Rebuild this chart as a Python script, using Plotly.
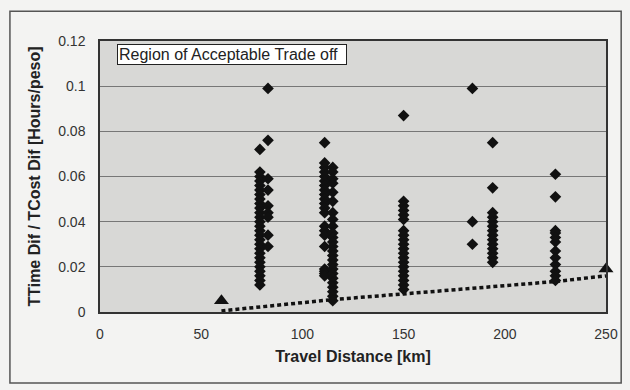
import plotly.graph_objects as go

# ---- data ----
x79 = [79]*27
y79 = [0.072, 0.062, 0.060, 0.058, 0.056, 0.054, 0.052, 0.050, 0.048, 0.046, 0.044,
       0.042, 0.040, 0.038, 0.036, 0.034, 0.032, 0.030, 0.028, 0.026, 0.024, 0.022,
       0.020, 0.018, 0.016, 0.014, 0.012]
x83 = [83]*9
y83 = [0.099, 0.076, 0.059, 0.054, 0.047, 0.044, 0.042, 0.034, 0.029]
x111 = [111]*21
y111 = [0.075, 0.066, 0.064, 0.062, 0.060, 0.058, 0.056, 0.054, 0.052, 0.050, 0.048,
        0.046, 0.044, 0.038, 0.036, 0.034, 0.029, 0.019, 0.018, 0.017, 0.016]
x115 = [115]*25
y115 = [0.064, 0.062, 0.059, 0.057, 0.053, 0.049, 0.044, 0.041, 0.038, 0.035, 0.033,
        0.031, 0.029, 0.027, 0.025, 0.023, 0.021, 0.019, 0.017, 0.015, 0.013, 0.011,
        0.009, 0.007, 0.005]
x150 = [150]*20
y150 = [0.087, 0.049, 0.047, 0.045, 0.043, 0.041, 0.036, 0.034, 0.032, 0.030, 0.028,
        0.026, 0.024, 0.022, 0.020, 0.018, 0.016, 0.014, 0.012, 0.010]
x184 = [184]*3
y184 = [0.099, 0.040, 0.030]
x194 = [194]*14
y194 = [0.075, 0.055, 0.044, 0.042, 0.040, 0.038, 0.036, 0.034, 0.032, 0.030, 0.028,
        0.026, 0.024, 0.022]
x225 = [225]*12
y225 = [0.061, 0.051, 0.036, 0.035, 0.033, 0.031, 0.027, 0.024, 0.021, 0.018, 0.016, 0.014]

tri_x = [60, 250]
tri_y = [0.005, 0.019]

line_x = [60, 115, 150, 185, 225, 250]
line_y = [0.0005, 0.0055, 0.008, 0.0105, 0.0135, 0.016]

x_ticks = [0, 50, 100, 150, 200, 250]
y_ticks = [0, 0.02, 0.04, 0.06, 0.08, 0.1, 0.12]
y_tick_text = ["0", "0.02", "0.04", "0.06", "0.08", "0.1", "0.12"]

pts_x = x79 + x83 + x111 + x115 + x150 + x184 + x194 + x225
pts_y = y79 + y83 + y111 + y115 + y150 + y184 + y194 + y225

FONT = "Liberation Sans, Arial, sans-serif"

fig = go.Figure()
fig.add_trace(go.Scatter(
    x=line_x, y=line_y, mode="lines",
    line=dict(color="#111111", width=3.5, dash="4px,3px"),
    hoverinfo="skip", showlegend=False))
fig.add_trace(go.Scatter(
    x=pts_x, y=pts_y, mode="markers",
    marker=dict(symbol="diamond", size=9, color="#111111", line=dict(width=0)),
    showlegend=False))
fig.add_trace(go.Scatter(
    x=tri_x, y=tri_y, mode="markers", cliponaxis=False,
    marker=dict(symbol="triangle-up", size=13, color="#111111", line=dict(width=0)),
    showlegend=False))

fig.update_layout(
    width=630, height=390,
    margin=dict(l=100, r=18, t=41, b=78),
    paper_bgcolor="#f3f3f2",
    plot_bgcolor="#d8d8d6",
    font=dict(family=FONT, size=14, color="#222222"),
    xaxis=dict(
        range=[0, 250], tickvals=x_ticks, ticks="", showgrid=False, zeroline=False,
        showline=True, linecolor="#333333", linewidth=1.5, mirror=True,
        tickfont=dict(size=14, color="#333333"), ticklabelstandoff=8,
        title=dict(text="<b>Travel Distance [km]</b>", font=dict(size=16, color="#222222"),
                   standoff=10),
    ),
    yaxis=dict(
        range=[0, 0.12], tickvals=y_ticks, ticktext=y_tick_text, ticks="",
        showgrid=True, gridcolor="#777777", gridwidth=1, zeroline=False,
        showline=True, linecolor="#333333", linewidth=1.5, mirror=True,
        tickfont=dict(size=14, color="#333333"), ticklabelstandoff=10,
        title=dict(text="<b>TTime Dif / TCost Dif [Hours/peso]</b>",
                   font=dict(size=16, color="#222222"), standoff=14),
    ),
    shapes=[dict(type="rect", xref="paper", yref="paper",
                 x0=-0.178, x1=1.03, y0=-0.262, y1=1.11,
                 line=dict(color="#555555", width=1.5), fillcolor="rgba(0,0,0,0)",
                 layer="below")],
    annotations=[dict(
        text="Region of Acceptable Trade off", xref="paper", yref="paper",
        x=0.033, y=0.99, xanchor="left", yanchor="top", showarrow=False,
        font=dict(size=16, color="#222222", family=FONT),
        bgcolor="#ffffff", bordercolor="#222222", borderwidth=1, borderpad=1,
        width=226, align="left")],
)

fig.write_html("out.html")
